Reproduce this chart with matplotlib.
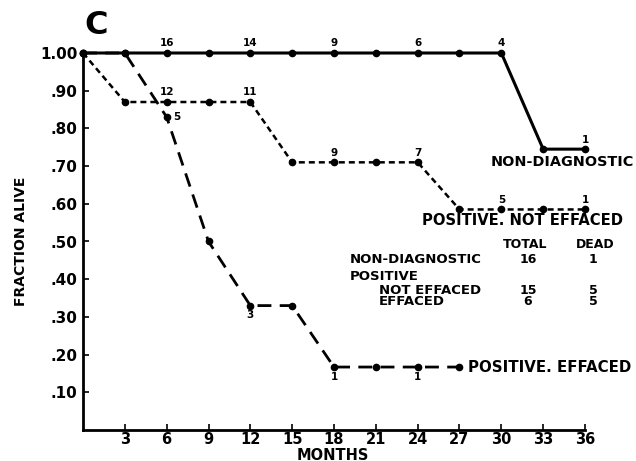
import matplotlib.pyplot as plt

# data
months = [0, 3, 6, 9, 12, 15, 18, 21, 24, 27, 30, 33, 36]
non_diag = [1.00, 1.00, 1.00, 1.00, 1.00, 1.00, 1.00, 1.00, 1.00, 1.00, 1.00, 0.745, 0.745]
not_effaced = [1.00, 0.87, 0.87, 0.87, 0.87, 0.71, 0.71, 0.71, 0.71, 0.585, 0.585, 0.585, 0.585]
eff_months = [0, 3, 6, 9, 12, 15, 18, 21, 24, 27]
effaced = [1.00, 1.00, 0.83, 0.50, 0.33, 0.33, 0.167, 0.167, 0.167, 0.167]

# numbers at risk written next to the points
non_diag_n = {6: "16", 12: "14", 18: "9", 24: "6", 30: "4", 36: "1"}
not_eff_n = {6: "12", 12: "11", 18: "9", 24: "7", 30: "5", 36: "1"}
eff_n = {12: "3", 18: "1", 24: "1"}

xticks = [3, 6, 9, 12, 15, 18, 21, 24, 27, 30, 33, 36]
yticks = [0.1, 0.2, 0.3, 0.4, 0.5, 0.6, 0.7, 0.8, 0.9, 1.0]
ytick_labels = [".10", ".20", ".30", ".40", ".50", ".60", ".70", ".80", ".90", "1.00"]

table_rows = ["NON-DIAGNOSTIC", "POSITIVE", "NOT EFFACED", "EFFACED"]
table_total = ["16", "", "15", "6"]
table_dead = ["1", "", "5", "5"]

plt.rcParams["font.family"] = ["DejaVu Sans"]
plt.rcParams["font.weight"] = "bold"

fig = plt.figure(figsize=(6.36, 4.61), dpi=100)
ax = fig.add_axes([83 / 636, 31 / 461, 502 / 636, 377 / 461])

ax.plot(months, non_diag, color="black", lw=2.2, marker="o", ms=4.5, clip_on=False)
ax.plot(months, not_effaced, color="black", lw=1.8, ls=(0, (2.4, 1.6)), marker="o", ms=4.5,
        clip_on=False)
ax.plot(eff_months, effaced, color="black", lw=2.0, ls=(0, (5, 3)), marker="o", ms=4.5,
        clip_on=False)

for m, s in non_diag_n.items():
    ax.text(m, non_diag[months.index(m)] + 0.012, s, ha="center", va="bottom", fontsize=7.5)
for m, s in not_eff_n.items():
    ax.text(m, not_effaced[months.index(m)] + 0.012, s, ha="center", va="bottom", fontsize=7.5)
ax.text(6.5, effaced[2], "5", ha="left", va="center", fontsize=7.5)
for m, s in eff_n.items():
    ax.text(m, effaced[eff_months.index(m)] - 0.012, s, ha="center", va="top", fontsize=7.5)

ax.text(29.2, 0.712, "NON-DIAGNOSTIC", ha="left", va="center", fontsize=10.4, clip_on=False)
ax.text(24.3, 0.555, "POSITIVE. NOT EFFACED", ha="left", va="center", fontsize=10.6,
        clip_on=False)
ax.text(27.6, 0.167, "POSITIVE. EFFACED", ha="left", va="center", fontsize=10.8, clip_on=False)

# small table inside the plot
ax.text(31.7, 0.491, "TOTAL", ha="center", va="center", fontsize=9)
ax.text(36.7, 0.491, "DEAD", ha="center", va="center", fontsize=9, clip_on=False)
row_y = [0.451, 0.406, 0.371, 0.340]
row_x = [19.15, 19.15, 21.2, 21.2]
for lab, tot, dead, y, x in zip(table_rows, table_total, table_dead, row_y, row_x):
    ax.text(x, y, lab, ha="left", va="center", fontsize=9.5)
    ax.text(31.9, y, tot, ha="center", va="center", fontsize=9)
    ax.text(36.6, y, dead, ha="center", va="center", fontsize=9, clip_on=False)

ax.set_xlim(0, 36)
ax.set_ylim(0, 1.0)
ax.set_xticks(xticks)
ax.set_xticklabels([str(t) for t in xticks], fontsize=10.5)
ax.set_yticks(yticks)
ax.set_yticklabels(ytick_labels, fontsize=11)
ax.tick_params(direction="in", length=4, width=1.2, pad=4)
ax.tick_params(axis="x", pad=1.5)
ax.spines["top"].set_visible(False)
ax.spines["right"].set_visible(False)
ax.spines["left"].set_linewidth(2)
ax.spines["bottom"].set_linewidth(2)

fig.text(333 / 636, 1 - 455 / 461, "MONTHS", ha="center", va="center", fontsize=10.5,
         weight="bold")
fig.text(21 / 636, 1 - 241 / 461, "FRACTION ALIVE", rotation=90, ha="center", va="center",
         fontsize=10, family=["Liberation Sans Narrow", "DejaVu Sans"])
fig.text(84 / 636, 1 - 25 / 461, "C", ha="left", va="center", fontsize=23, weight="heavy")

fig.savefig("out.png", dpi=100)
